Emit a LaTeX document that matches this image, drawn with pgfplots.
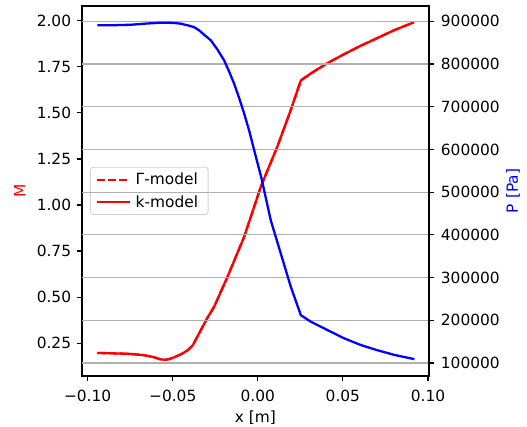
\documentclass[border=0pt]{standalone}
\usepackage{pgfplots}
\pgfplotsset{compat=1.18}
\usepackage{fontspec}
\setmainfont{DejaVu Sans}
\definecolor{gridgray}{HTML}{B0B0B0}
\pgfplotstableread{
x M
-0.0943 0.197
-0.085 0.195
-0.075 0.192
-0.0669 0.185
-0.061 0.174
-0.0575 0.163
-0.0545 0.160
-0.052 0.164
-0.0492 0.173
-0.0445 0.193
-0.0410 0.213
-0.0382 0.239
-0.0294 0.391
-0.0257 0.447
-0.0178 0.610
-0.0080 0.828
0.0018 1.100
0.0115 1.317
0.0194 1.516
0.0253 1.676
0.0312 1.714
0.0400 1.765
0.0500 1.815
0.0600 1.862
0.0700 1.905
0.0800 1.948
0.0918 1.992
}\Mdata
\pgfplotstableread{
x P
-0.0943 891000
-0.085 891000
-0.075 892000
-0.065 895000
-0.057 897000
-0.052 896800
-0.0485 896000
-0.0453 894600
-0.0415 891000
-0.0375 886700
-0.0345 879000
-0.0310 867000
-0.0276 855600
-0.0237 834000
-0.0198 808800
-0.0169 783000
-0.0139 754000
-0.0110 721000
-0.0080 684000
-0.0050 643000
-0.0021 598000
0.0022 532000
0.0076 434500
0.0135 356500
0.0194 278500
0.0253 212000
0.0312 196600
0.0410 177000
0.0506 158000
0.0606 142000
0.0702 130000
0.0802 119000
0.0920 109000
}\Pdata
\begin{document}
\begin{tikzpicture}
\pgfplotsset{
  common/.style={
    scale only axis, width=347pt, height=370pt,
    xmin=-0.1033, xmax=0.1006,
    /pgf/number format/assume math mode=true,
    tick style={black, line width=1.2pt},
    major tick length=5.4pt,
    tick align=outside,
    axis line style={line width=1.2pt},
    tick label style={font=\fontsize{15.4}{18}\selectfont},
    label style={font=\fontsize{15.4}{18}\selectfont},
  }
}
\begin{axis}[common, name=ax,
  ymin=0.072, ymax=2.08,
  xtick={-0.1,-0.05,0,0.05,0.1},
  xticklabels={−0.10,−0.05,0.00,0.05,0.10},
  xticklabel style={yshift=-5pt},
  ytick={0.25,0.5,0.75,1,1.25,1.5,1.75,2},
  yticklabel style={xshift=-2pt, /pgf/number format/fixed, /pgf/number format/fixed zerofill, /pgf/number format/precision=2},
  xtick pos=bottom, ytick pos=left,
  xlabel={x [m]}, ylabel={M},
  xlabel style={at={(axis description cs:0.5,-0.112)}, anchor=center},
  ylabel style={at={(axis description cs:-0.179,0.5)}, anchor=center, rotate=0, text=red},
  legend style={at={(axis description cs:0.023,0.5)}, anchor=west,
    draw=gray!35, line width=0.9pt, rounded corners=3pt, fill=white, fill opacity=0.8, text opacity=1,
    font=\fontsize{15.4}{18}\selectfont, inner xsep=5pt, inner ysep=4pt, row sep=5pt,
    nodes={inner xsep=5pt}},
  legend cell align=left,
  legend image code/.code={\draw[#1] (0pt,0pt) -- (33pt,0pt);},
]
\addplot[red, line width=2.3pt, dash pattern=on 8pt off 3.4pt] table[x=x,y=M]{\Mdata};
\addlegendentry{Γ-model}
\addplot[red, line width=2.3pt] table[x=x,y=M]{\Mdata};
\addlegendentry{k-model}
\end{axis}
\begin{axis}[common,
  hide x axis, axis y line*=right,
  ymin=69600, ymax=936000,
  ytick={100000,200000,300000,400000,500000,600000,700000,800000,900000},
  scaled y ticks=false,
  yticklabel style={xshift=3pt, /pgf/number format/fixed, /pgf/number format/1000 sep={}},
  ymajorgrids, grid style={gridgray, line width=1.2pt},
  ylabel={P [Pa]},
  ylabel style={at={(axis description cs:1.242,0.5)}, anchor=center, rotate=0, text=blue},
]
\addplot[blue, line width=2.3pt] table[x=x,y=P]{\Pdata};
\end{axis}
\pgfresetboundingbox
\path ([shift={(-82pt,-51pt)}]ax.south west) rectangle ([shift={(98pt,6pt)}]ax.north east);
\end{tikzpicture}
\end{document}
